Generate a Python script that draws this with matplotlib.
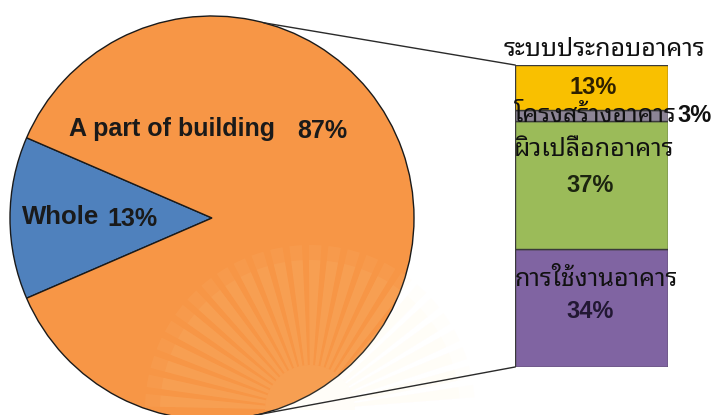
import numpy as np
import matplotlib
matplotlib.use("Agg")
import matplotlib.pyplot as plt
from matplotlib.patches import Wedge

# Overall split
pie_labels = ["Whole", "A part of building"]
pie_values = [13, 87]
pie_colors = ["#4f81bd", "#f79646"]

# Breakdown of "A part of building", stacked bottom to top
bar_labels = ["การใช้งานอาคาร", "ผิวเปลือกอาคาร", "โครงสร้างอาคาร", "ระบบประกอบอาคาร"]
bar_values = [34, 37, 3, 13]
bar_colors = ["#8064a2", "#9bbb59", "#8c8495", "#f9c000"]

W, H = 716, 415
THAI = ["Noto Sans Thai Looped", "DejaVu Sans"]
LATIN = ["Liberation Sans", "DejaVu Sans"]

fig = plt.figure(figsize=(W / 100, H / 100), dpi=100)
fig.patch.set_facecolor("white")

# Stacked bar of the breakdown
bx0, by0, bx1, by1 = 515, 367, 668, 65
bax = fig.add_axes([bx0 / W, (H - by0) / H, (bx1 - bx0) / W, (by0 - by1) / H])
bax.set_zorder(1)
bottoms = np.concatenate([[0], np.cumsum(bar_values)[:-1]])
bax.bar(0, bar_values, bottom=bottoms, width=1.0, color=bar_colors,
        edgecolor="#3a3a3a", linewidth=1.0)
bax.set_xlim(-0.5, 0.5)
bax.set_ylim(0, sum(bar_values))
bax.axis("off")

# Canvas axes in pixel units (y measured upward), drawn above the bar
ax = fig.add_axes([0, 0, 1, 1])
ax.set_zorder(2)
ax.patch.set_visible(False)


def P(x, y):
    return x, H - y


cx, cy = P(212, 218)
radius = 202
start = 180 - pie_values[0] / sum(pie_values) * 360 / 2
ax.pie(pie_values, colors=pie_colors, startangle=start, center=(cx, cy),
       radius=radius, frame=True,
       wedgeprops=dict(edgecolor="#1a1a1a", linewidth=1.0))
ax.set_xlim(0, W)
ax.set_ylim(0, H)
ax.set_aspect("equal")
ax.axis("off")

# Connector lines from the pie to the bar
for ang, (tx, ty) in [(75, P(bx0, by1)), (-82, P(bx0, by0))]:
    a = np.deg2rad(ang)
    ax.plot([cx + radius * np.cos(a), tx], [cy + radius * np.sin(a), ty],
            color="#2a2a2a", lw=1.0, zorder=3)

# Faint sunburst emblem in the background
ex, ey = P(310, 410)
for k in range(26):
    t0 = 5 + k * 6.8
    for rr, al in [(165, 0.05), (150, 0.06)]:
        ax.add_patch(Wedge((ex, ey), rr, t0 - 0.6, t0 + 3.8, width=rr - 45,
                           facecolor="#fff0c0", edgecolor="none", alpha=al, zorder=2))
ax.add_patch(Wedge((ex, ey), 45, 0, 180, facecolor="#fff0c0",
                   edgecolor="none", alpha=0.10, zorder=2))

# Pie labels
ax.text(*P(69, 129), "A part of building", fontsize=18, fontweight="bold",
        family=LATIN, ha="left", va="center", color="#1a1a1a", zorder=5)
ax.text(*P(322, 131), "87%", fontsize=18, fontweight="bold",
        family=LATIN, ha="center", va="center", color="#1a1a1a", zorder=5)
ax.text(*P(22, 217), "Whole", fontsize=18.5, fontweight="bold",
        family=LATIN, ha="left", va="center", color="#1a1a1a", zorder=5)
ax.text(*P(132, 219), "13%", fontsize=18, fontweight="bold",
        family=LATIN, ha="center", va="center", color="#1a1a1a", zorder=5)

# Bar labels: category names and percentages
name_pos = [(596, 280), (594, 150), (595, 116), (604, 49)]
pct_pos = [(590, 312), (590, 185), (695, 116), (593, 88)]
pct_colors = ["#221833", "#1c2410", "#111111", "#2e2000"]
for name, val, (nx, ny), (px, py), pc in zip(bar_labels, bar_values,
                                              name_pos, pct_pos, pct_colors):
    ax.text(*P(nx, ny), name, fontsize=18, fontweight="light", family=THAI,
            ha="center", va="center", color="#111111", zorder=6)
    ax.text(*P(px, py), f"{val}%", fontsize=17, fontweight="bold",
            family=LATIN, ha="center", va="center", color=pc, zorder=6)

fig.savefig("out.png", dpi=100, facecolor="white")
